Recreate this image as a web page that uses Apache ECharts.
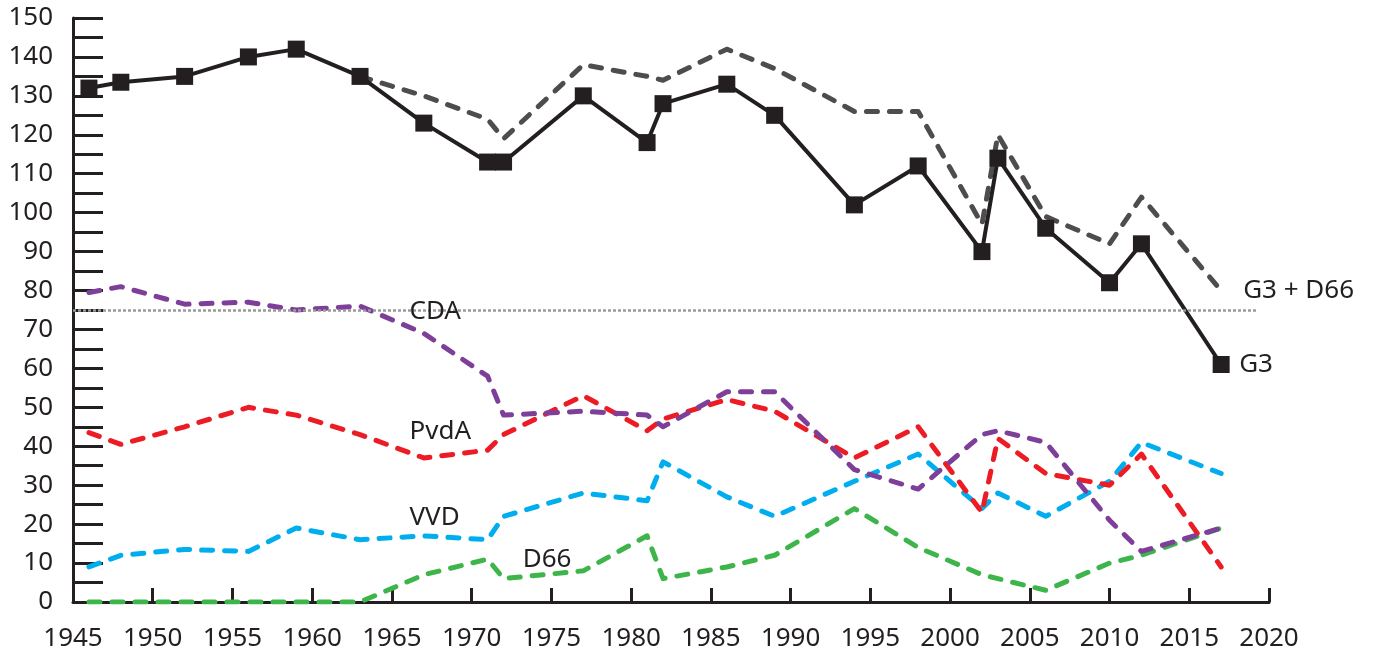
<!DOCTYPE html>
<html>
<head>
<meta charset="utf-8">
<script src="https://cdn.jsdelivr.net/npm/echarts@6/dist/echarts.min.js"></script>
<style>
html,body{margin:0;padding:0;background:#fff;}
#chart{width:1385px;height:661px;}
</style>
</head>
<body>
<div id="chart"></div>
<script>
// Election years
const years = [1946,1948,1952,1956,1959,1963,1967,1971,1972,1977,1981,1982,1986,1989,1994,1998,2002,2003,2006,2010,2012,2017];
// Seats (scaled to 150)
const g3   = [132,133.5,135,140,142,135,123,113,113,130,118,128,133,125,102,112,90,114,96,82,92,61];
const cda  = [79.5,81,76.5,77,75,76,69,58,48,49,48,45,54,54,34,29,43,44,41,21,13,19];
const pvda = [43.5,40.5,45,50,48,43,37,39,43,53,44,47,52,49,37,45,23,42,33,30,38,9];
const vvd  = [9,12,13.5,13,19,16,17,16,22,28,26,36,27,22,31,38,24,28,22,31,41,33];
const d66  = [0,0,0,0,0,0,7,11,6,8,17,6,9,12,24,14,7,6,3,10,12,19];
// G3 + D66 drawn from 1963 on
const g3d66Years = [1963,1967,1971,1972,1977,1981,1982,1986,1989,1994,1998,2002,2003,2006,2010,2012,2017];
const g3d66 = [135,130,124,119,138,135,134,142,137,126,126,97,120,99,92,104,80];
// Threshold line
const majority = 75;
const majorityEnd = 2019.3;
// In-chart series labels: [year, value, text]
const seriesLabels = [[1966.1,74.5,'CDA'],[1966.1,43.7,'PvdA'],[1966.1,21.6,'VVD'],[1973.2,10.8,'D66']];

const FONT = 'Noto Sans';
const FS = 26;
const TXT = '#231f20';
const zip = (xs, ys) => xs.map((x,i)=>[x, ys[i]]);
const dash = (color) => ({color: color, width: 5, type: [11, 12], cap: 'round', join: 'round'});

const chart = echarts.init(document.getElementById('chart'));
chart.setOption({
  animation: false,
  backgroundColor: '#fff',
  grid: {left: 73, right: 116, top: 18, bottom: 59, containLabel: false},
  xAxis: {
    type: 'value', min: 1945, max: 2020, interval: 5,
    axisLine: {show: true, lineStyle: {color: TXT, width: 3}},
    axisTick: {show: true, inside: true, length: 14, lineStyle: {color: TXT, width: 3}},
    axisLabel: {color: TXT, fontFamily: FONT, fontSize: FS, margin: 24, formatter: v => String(v)},
    splitLine: {show: false}
  },
  yAxis: {
    type: 'value', min: 0, max: 150, interval: 5,
    axisLine: {show: true, lineStyle: {color: TXT, width: 3}},
    axisTick: {show: true, inside: true, length: 30, lineStyle: {color: TXT, width: 3}},
    axisLabel: {color: TXT, fontFamily: FONT, fontSize: FS, margin: 20,
      formatter: v => (v % 10 === 0 ? String(v) : '')},
    splitLine: {show: false}
  },
  series: [
    {
      type: 'line', name: 'threshold', data: [], silent: true, symbol: 'none',
      markLine: {
        silent: true, symbol: 'none', label: {show: false},
        lineStyle: {color: '#9a9a9a', width: 2.5, type: [3, 2]},
        data: [[{coord: [1945, majority]}, {coord: [majorityEnd, majority]}]]
      }
    },
    {type: 'line', name: 'D66', data: zip(years, d66), symbol: 'none', lineStyle: dash('#3db54a')},
    {type: 'line', name: 'VVD', data: zip(years, vvd), symbol: 'none', lineStyle: dash('#00aeef')},
    {type: 'line', name: 'PvdA', data: zip(years, pvda), symbol: 'none', lineStyle: dash('#ed1c24')},
    {type: 'line', name: 'CDA', data: zip(years, cda), symbol: 'none', lineStyle: dash('#7e3f98')},
    {type: 'line', name: 'G3 + D66', data: zip(g3d66Years, g3d66), symbol: 'none', lineStyle: dash('#4d4d4f'),
      endLabel: {show: true, formatter: 'G3 + D66', color: TXT, fontFamily: FONT, fontSize: FS, distance: 22}},
    {type: 'line', name: 'G3', data: zip(years, g3), symbol: 'rect', symbolSize: 17,
      itemStyle: {color: TXT}, lineStyle: {color: TXT, width: 4},
      endLabel: {show: true, formatter: 'G3', color: TXT, fontFamily: FONT, fontSize: FS, distance: 18}}
  ]
});
// Series name labels placed through the chart's own scales
chart.setOption({
  graphic: seriesLabels.map(d => {
    const p = chart.convertToPixel({gridIndex: 0}, [d[0], d[1]]);
    return {type: 'text', x: p[0], y: p[1], z: 100, silent: true,
      style: {text: d[2], fill: TXT, font: FS + 'px "' + FONT + '"', textAlign: 'left', textVerticalAlign: 'middle'}};
  })
});
</script>
</body>
</html>
